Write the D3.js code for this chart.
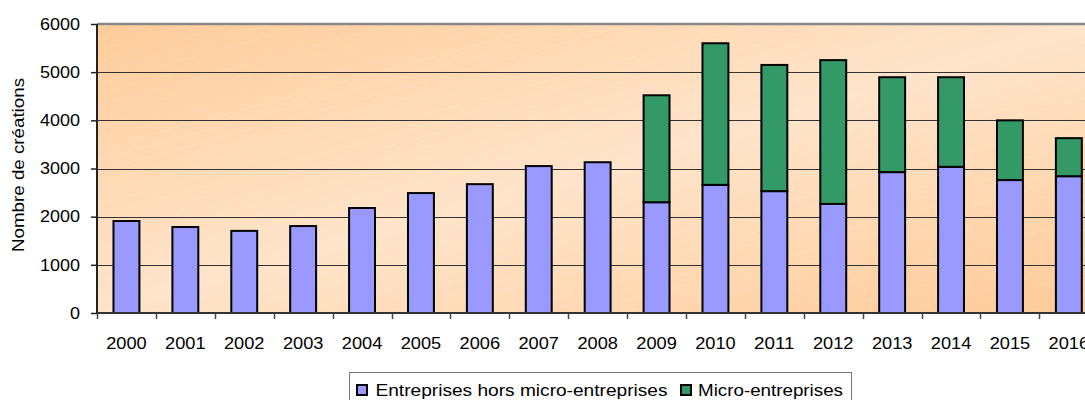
<!DOCTYPE html>
<html><head><meta charset="utf-8">
<script src="https://cdn.jsdelivr.net/npm/d3@7"></script>
<style>
html,body{margin:0;padding:0;background:#fff;}
svg{display:block;font-family:"Liberation Sans",Arial,sans-serif;}
</style></head>
<body><svg id="c" width="1085" height="400"></svg>
<script>
const years = ["2000","2001","2002","2003","2004","2005","2006","2007","2008","2009","2010","2011","2012","2013","2014","2015","2016"];
const horsMicro = [1910,1785,1705,1805,2180,2490,2675,3050,3130,2300,2660,2530,2265,2925,3035,2760,2840];
const micro = [0,0,0,0,0,0,0,0,0,2220,2940,2620,2985,1970,1860,1240,790];
const yTicks = [0,1000,2000,3000,4000,5000,6000];
const seriesNames = ["Entreprises hors micro-entreprises","Micro-entreprises"];
const seriesColors = ["#9999FF","#339966"];
const yTitle = "Nombre de créations";

const svg = d3.select("#c");
const L = 97, T = 24, B = 313, step = 58.9;
const R = L + step * years.length;
const FS = "16.5px";

const defs = svg.append("defs");
const g = defs.append("linearGradient").attr("id","bg")
  .attr("x1","0").attr("y1","0").attr("x2","1").attr("y2","1");
g.append("stop").attr("offset","0").attr("stop-color","#FFCC99");
g.append("stop").attr("offset","0.5").attr("stop-color","#FFE4CA");
g.append("stop").attr("offset","1").attr("stop-color","#FFCA96");
const pat = defs.append("pattern").attr("id","hatch").attr("patternUnits","userSpaceOnUse")
  .attr("width",40).attr("height",11);
pat.append("line").attr("x1",0).attr("y1",11).attr("x2",40).attr("y2",0)
  .attr("stroke","#fff").attr("stroke-opacity",0.25).attr("stroke-width",0.8).attr("stroke-dasharray","5,3");

const x = d3.scaleBand().domain(years).range([L,R]).paddingInner(0.56).paddingOuter(0.28);
const y = d3.scaleLinear().domain([0,6000]).range([B,T]);

svg.append("rect").attr("x",L).attr("y",T).attr("width",R-L).attr("height",B-T).attr("fill","url(#bg)");
svg.append("rect").attr("x",L).attr("y",T).attr("width",R-L).attr("height",B-T).attr("fill","url(#hatch)");

// gridlines
svg.append("g").selectAll("line").data(yTicks.filter(d=>d>0 && d<6000)).join("line")
  .attr("x1",L).attr("x2",R).attr("y1",d=>Math.round(y(d))+0.5).attr("y2",d=>Math.round(y(d))+0.5)
  .attr("stroke","#333").attr("stroke-width",1.2);
svg.append("line").attr("x1",L).attr("x2",R).attr("y1",T).attr("y2",T)
  .attr("stroke","#888").attr("stroke-width",2.5);

// bars
const stack = years.map((yr,i)=>({yr, a:horsMicro[i], b:micro[i]}));
svg.append("g").selectAll("rect").data(stack).join("rect")
  .attr("x",d=>x(d.yr)).attr("width",x.bandwidth())
  .attr("y",d=>y(d.a)).attr("height",d=>y(0)-y(d.a))
  .attr("fill",seriesColors[0]).attr("stroke","#000").attr("stroke-width",2);
svg.append("g").selectAll("rect").data(stack.filter(d=>d.b>0)).join("rect")
  .attr("x",d=>x(d.yr)).attr("width",x.bandwidth())
  .attr("y",d=>y(d.a+d.b)).attr("height",d=>y(d.a)-y(d.a+d.b))
  .attr("fill",seriesColors[1]).attr("stroke","#000").attr("stroke-width",2);

// y axis
const yAxis = svg.append("g").attr("transform",`translate(${L},0)`)
  .call(d3.axisLeft(y).tickValues(yTicks).tickSize(6).tickPadding(11).tickFormat(d3.format("d")));
yAxis.select(".domain").attr("d",`M0,${T}V${B}`).attr("stroke","#222").attr("stroke-width",2);
yAxis.selectAll(".tick line").attr("stroke","#222").attr("stroke-width",1.5);
yAxis.selectAll(".tick text").attr("font-size",FS).attr("fill","#000")
  .attr("font-family","Liberation Sans, Arial, sans-serif")
  .attr("textLength",d=>String(d).length*10).attr("lengthAdjust","spacingAndGlyphs");

// x axis
const xb = d3.scaleLinear().domain([0,years.length]).range([L,R]);
const xAxisG = svg.append("g");
xAxisG.append("line").attr("x1",L).attr("x2",R).attr("y1",B).attr("y2",B).attr("stroke","#333").attr("stroke-width",2);
xAxisG.selectAll("line.t").data(d3.range(years.length+1)).join("line").attr("class","t")
  .attr("x1",d=>Math.round(xb(d))+0.5).attr("x2",d=>Math.round(xb(d))+0.5).attr("y1",B).attr("y2",B+6)
  .attr("stroke","#444").attr("stroke-width",1.5);
xAxisG.selectAll("text").data(years).join("text")
  .attr("x",d=>x(d)+x.bandwidth()/2).attr("y",349)
  .attr("text-anchor","middle").attr("font-size",FS)
  .attr("textLength",40.5).attr("lengthAdjust","spacingAndGlyphs").text(d=>d);

// y title
svg.append("text").attr("transform",`translate(24,165) rotate(-90)`)
  .attr("text-anchor","middle").attr("font-size","16px")
  .attr("textLength",174).attr("lengthAdjust","spacingAndGlyphs").text(yTitle);

// legend
const lg = svg.append("g");
lg.append("rect").attr("x",349.5).attr("y",372.5).attr("width",502).attr("height",40)
  .attr("fill","#fff").attr("stroke","#777").attr("stroke-width",1);
const items = [{x:356, tx:375.5, w:292}, {x:680, tx:698, w:145}];
seriesNames.forEach((n,i)=>{
  lg.append("rect").attr("x",items[i].x+1).attr("y",385).attr("width",10).attr("height",10)
    .attr("fill",seriesColors[i]).attr("stroke","#000").attr("stroke-width",2);
  lg.append("text").attr("x",items[i].tx).attr("y",396).attr("font-size",FS)
    .attr("textLength",items[i].w).attr("lengthAdjust","spacingAndGlyphs").text(n);
});
</script></body></html>
